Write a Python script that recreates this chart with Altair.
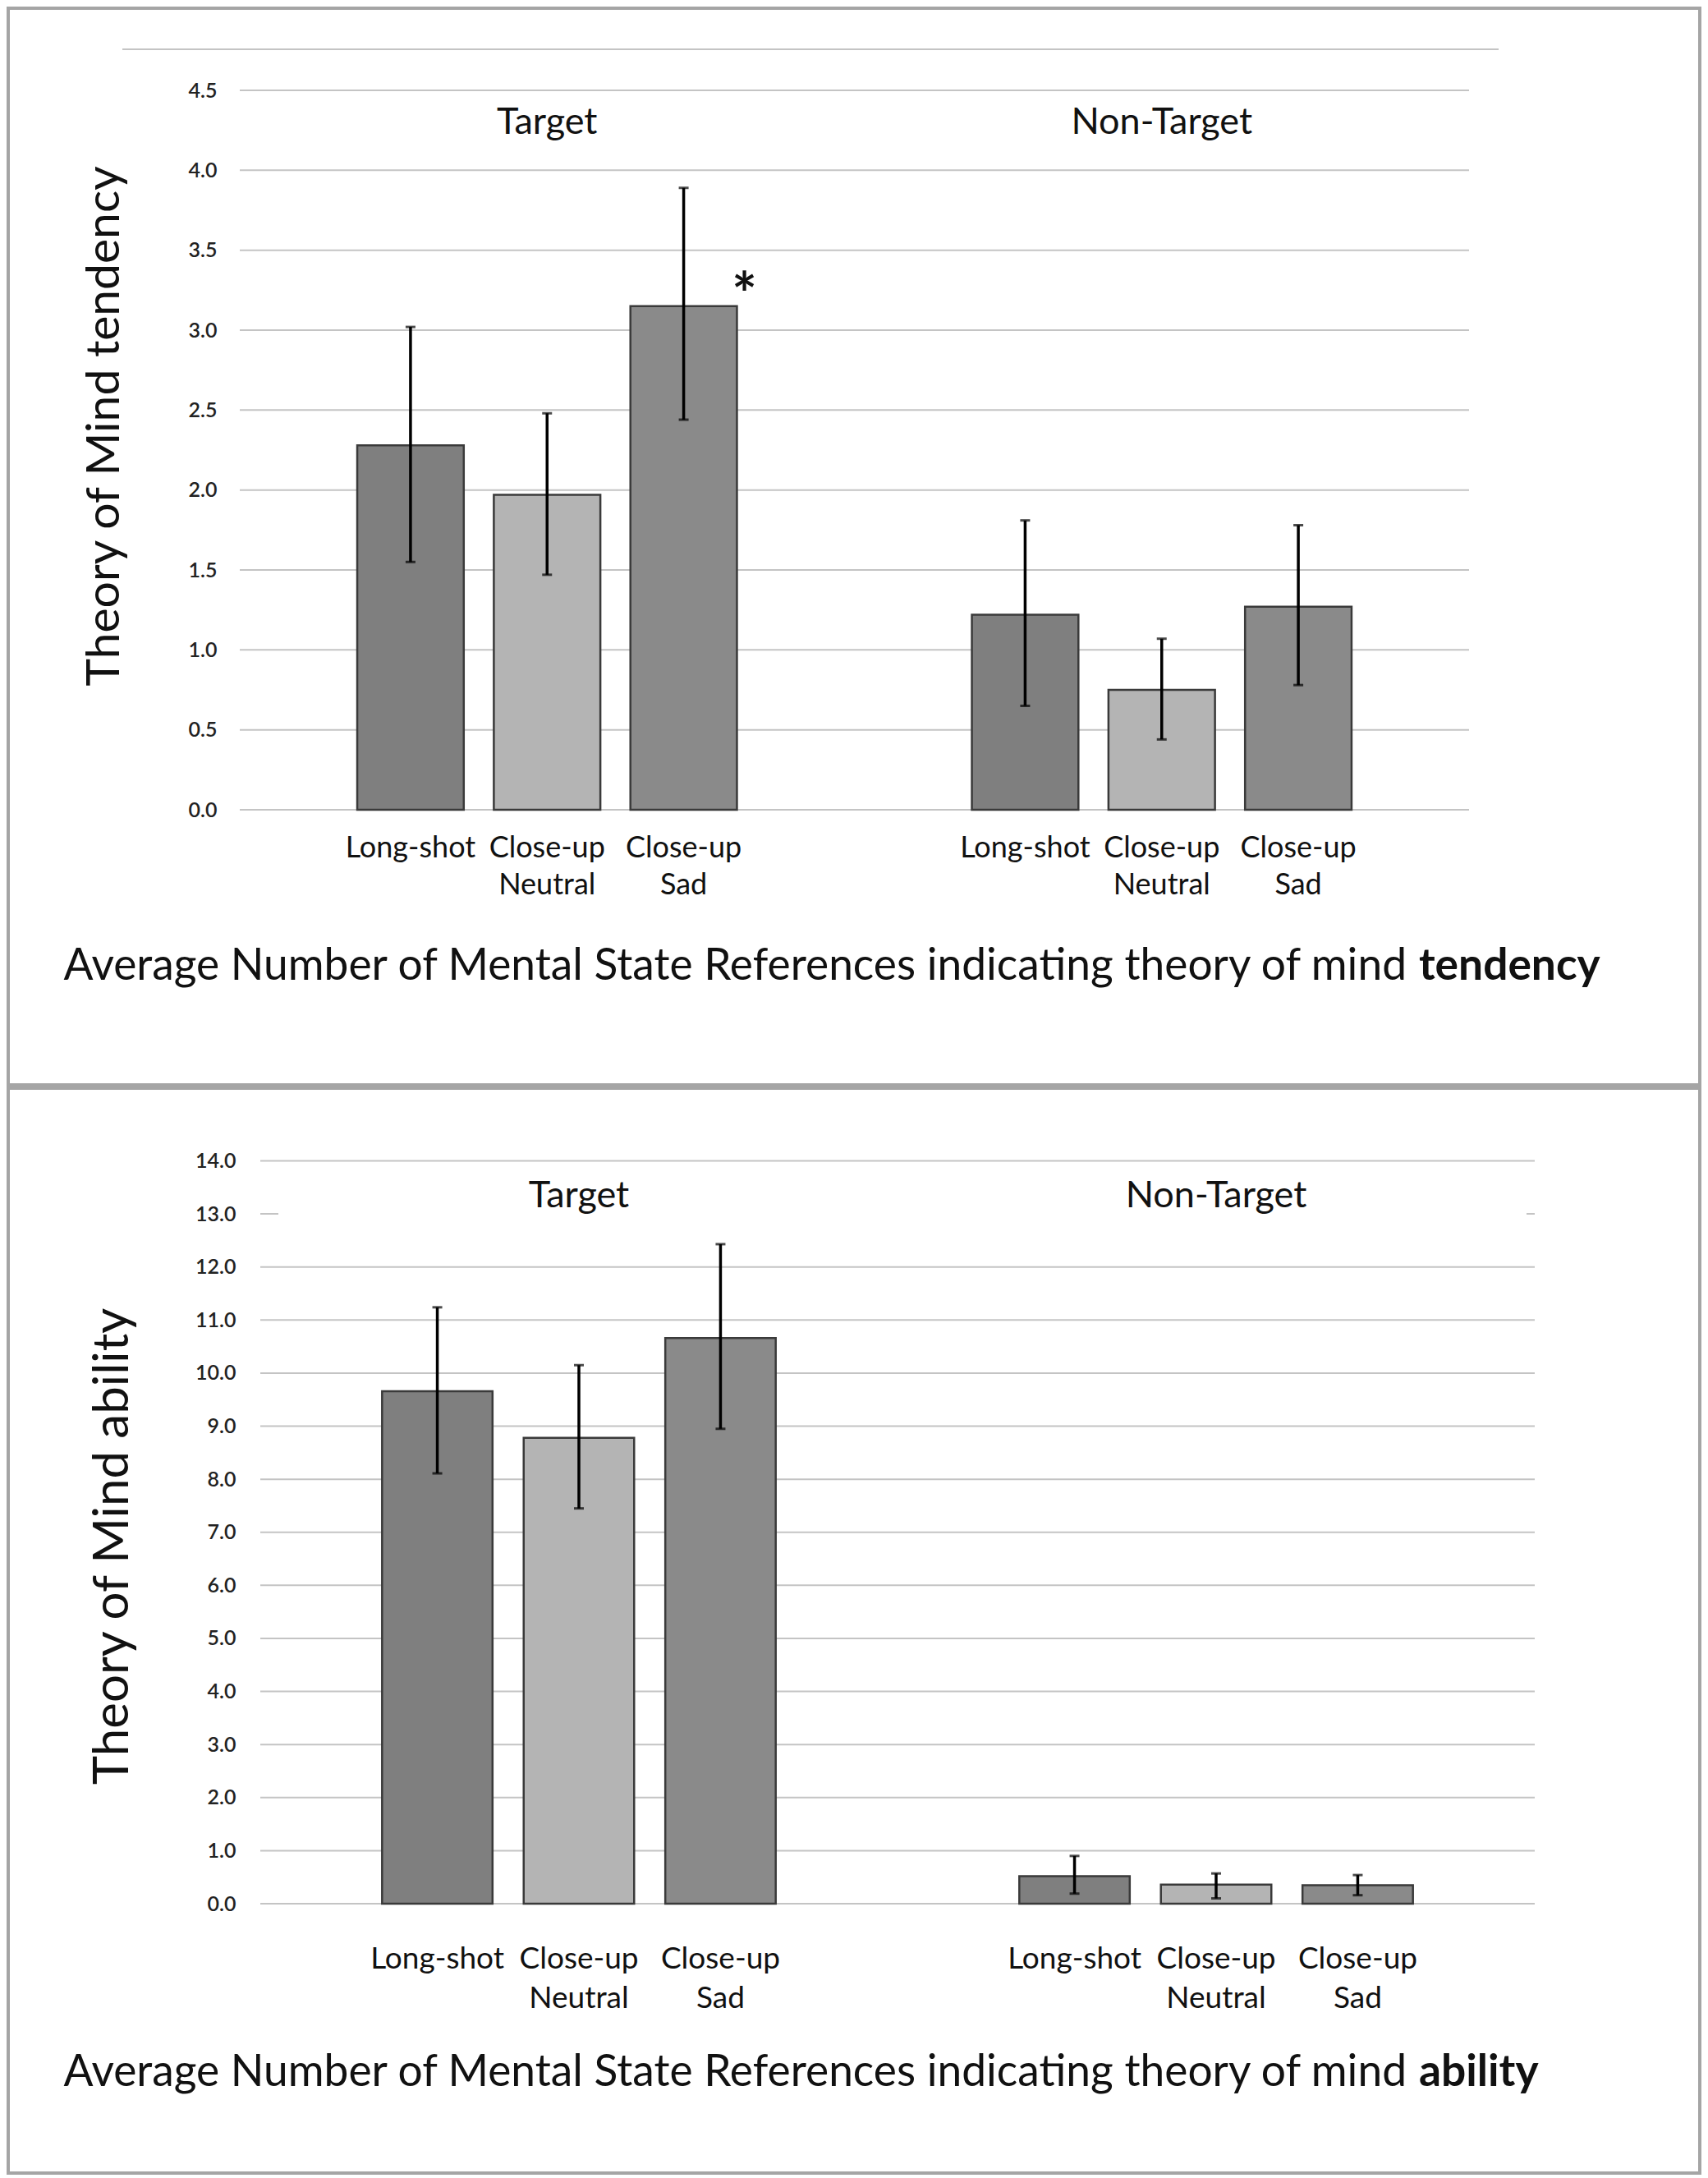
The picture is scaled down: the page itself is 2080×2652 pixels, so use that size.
import altair as alt
import pandas as pd

groups = ["Target", "Non-Target"]
conditions = ["Long-shot", "Close-up Neutral", "Close-up Sad"]
condition_labels = ["Long-shot", "Close-up\nNeutral", "Close-up\nSad"]
bar_colors = ["#7f7f7f", "#b4b4b4", "#8a8a8a"]

# Panel 1: theory of mind tendency (Target x3, Non-Target x3)
tend_mean = [2.28, 1.97, 3.15, 1.22, 0.75, 1.27]
tend_lo = [1.55, 1.47, 2.44, 0.65, 0.44, 0.78]
tend_hi = [3.02, 2.48, 3.89, 1.81, 1.07, 1.78]
tend_sig = ["", "", "*", "", "", ""]
tend_ticks = [0.0, 0.5, 1.0, 1.5, 2.0, 2.5, 3.0, 3.5, 4.0, 4.5]
tend_ytitle = "Theory of Mind tendency"
tend_caption = "tendency"

# Panel 2: theory of mind ability
abil_mean = [9.66, 8.78, 10.66, 0.52, 0.36, 0.35]
abil_lo = [8.11, 7.45, 8.95, 0.19, 0.10, 0.16]
abil_hi = [11.24, 10.15, 12.43, 0.90, 0.57, 0.54]
abil_sig = ["", "", "", "", "", ""]
abil_ticks = [0, 1, 2, 3, 4, 5, 6, 7, 8, 9, 10, 11, 12, 13, 14]
abil_ytitle = "Theory of Mind ability"
abil_caption = "ability"

caption_main = "Average Number of Mental State References indicating theory of mind"

FONT = "Lato"
TXT = "#111111"
W = 2060


def panel(mean, lo, hi, sig, ticks, ymax, ytitle, capbold, cfg):
    rows = []
    for gi, g in enumerate(groups):
        for ci, c in enumerate(conditions):
            i = gi * 3 + ci
            rows.append(dict(group=g, cond=c, label=condition_labels[ci],
                             mean=mean[i], lo=lo[i], hi=hi[i], sig=sig[i]))
    df = pd.DataFrame(rows)
    one = pd.DataFrame({"k": [0]})

    xs = alt.Scale(domain=groups, range=[cfg["x0"], cfg["x1"]], paddingInner=0, paddingOuter=0)
    xo = alt.Scale(domain=conditions, paddingInner=0.22, paddingOuter=0.86)
    ys = alt.Scale(domain=[0, ymax], range=[cfg["y0"], cfg["y1"]], nice=False, zero=True)
    X = alt.X("group:N", scale=xs, axis=None, sort=groups)
    XO = alt.XOffset("cond:N", scale=xo, sort=conditions)
    yaxis = alt.Axis(values=ticks, format=".1f", title=None, grid=False, domain=False,
                     ticks=False, offset=-cfg["x0"], labelPadding=cfg["lp"], labelFont=FONT,
                     labelFontSize=25, labelColor="#222222", labelFontWeight=600)

    grid = alt.Chart(pd.DataFrame({"v": ticks})).mark_rule(color="#c4c4c4", strokeWidth=2).encode(
        y=alt.Y("v:Q", scale=ys, axis=yaxis),
        x=alt.value(cfg["x0"]), x2=alt.value(cfg["x1"]))
    layers = [grid]
    if cfg.get("topline"):
        t = cfg["topline"]
        layers.append(alt.Chart(one).mark_rule(color="#c4c4c4", strokeWidth=2).encode(
            x=alt.value(t[0]), x2=alt.value(t[1]), y=alt.value(t[2])))
    if cfg.get("hide") is not None:
        h = cfg["hide"]
        layers.append(alt.Chart(pd.DataFrame({"v": [h[0]]})).mark_rule(color="white", strokeWidth=6).encode(
            y=alt.Y("v:Q", scale=ys, axis=yaxis), x=alt.value(h[1]), x2=alt.value(h[2])))

    color = alt.Color("cond:N", scale=alt.Scale(domain=conditions, range=bar_colors), legend=None)
    base = alt.Chart(df)
    bars = base.mark_bar(stroke="#3a3a3a", strokeWidth=2.5).encode(
        x=X, xOffset=XO, y=alt.Y("mean:Q", scale=ys, axis=yaxis), color=color)
    err = base.mark_rule(color="black", strokeWidth=3.5).encode(
        x=X, xOffset=XO, y=alt.Y("lo:Q", scale=ys, axis=yaxis), y2="hi:Q")
    cap_lo = base.mark_tick(color="black", size=12, thickness=3).encode(
        x=X, xOffset=XO, y=alt.Y("lo:Q", scale=ys, axis=yaxis))
    cap_hi = base.mark_tick(color="black", size=12, thickness=3).encode(
        x=X, xOffset=XO, y=alt.Y("hi:Q", scale=ys, axis=yaxis))
    sigt = base.mark_text(font=FONT, fontSize=72, fontWeight="bold", color=TXT, dx=74, dy=12,
                          baseline="alphabetic").encode(
        x=X, xOffset=XO, y=alt.Y("mean:Q", scale=ys, axis=yaxis), text="sig:N")
    gtitle = alt.Chart(pd.DataFrame({"group": groups})).mark_text(
        font=FONT, fontSize=45, color=TXT, baseline="middle").encode(
        x=X, y=alt.value(cfg["gy"]), text="group:N")
    clabels = base.mark_text(font=FONT, fontSize=cfg["lfs"], color=TXT, baseline="top",
                             lineBreak="\n", lineHeight=cfg["lh"]).encode(
        x=X, xOffset=XO, y=alt.value(cfg["ly"]), text="label:N")
    cap1 = alt.Chart(one).mark_text(font=FONT, fontSize=53.3, color=TXT, align="right",
                                    baseline="middle").encode(
        x=alt.value(1703), y=alt.value(cfg["cy"]), text=alt.value(caption_main))
    cap2 = alt.Chart(one).mark_text(font=FONT, fontSize=53.3, color=TXT, align="left",
                                    baseline="middle", fontWeight="bold").encode(
        x=alt.value(1718), y=alt.value(cfg["cy"]), text=alt.value(capbold))
    yt = alt.Chart(one).mark_text(font=FONT, fontSize=cfg["tfs"], color=TXT, angle=270,
                                  align="center", baseline="middle").encode(
        x=alt.value(cfg["tx"]), y=alt.value(cfg["ty"]), text=alt.value(ytitle))

    layers += [bars, err, cap_lo, cap_hi, sigt, gtitle, clabels, cap1, cap2, yt]
    return alt.layer(*layers).properties(width=W, height=cfg["h"])


top = panel(tend_mean, tend_lo, tend_hi, tend_sig, tend_ticks, 4.5, tend_ytitle, tend_caption,
            dict(x0=282, x1=1779, y0=976, y1=100, lp=28, gy=139, ly=1006, lh=45, lfs=36,
                 cy=1167, tx=118, ty=509, tfs=57, h=1311, topline=(139, 1815, 50)))
bottom = panel(abil_mean, abil_lo, abil_hi, abil_sig, abil_ticks, 14, abil_ytitle, abil_caption,
               dict(x0=307, x1=1859, y0=993, y1=88.5, lp=30, gy=131, ly=1043, lh=48, lfs=37,
                    cy=1199, tx=128, ty=558, tfs=60, h=1321, hide=(13, 329, 1849)))

chart = alt.vconcat(top, bottom, spacing=0).resolve_scale(
    x="independent", y="independent", xOffset="independent", color="independent"
).configure_view(stroke="#a5a5a5", strokeWidth=4).properties(padding=0)

chart.save("out.html", embed_options={"renderer": "svg", "actions": False})
